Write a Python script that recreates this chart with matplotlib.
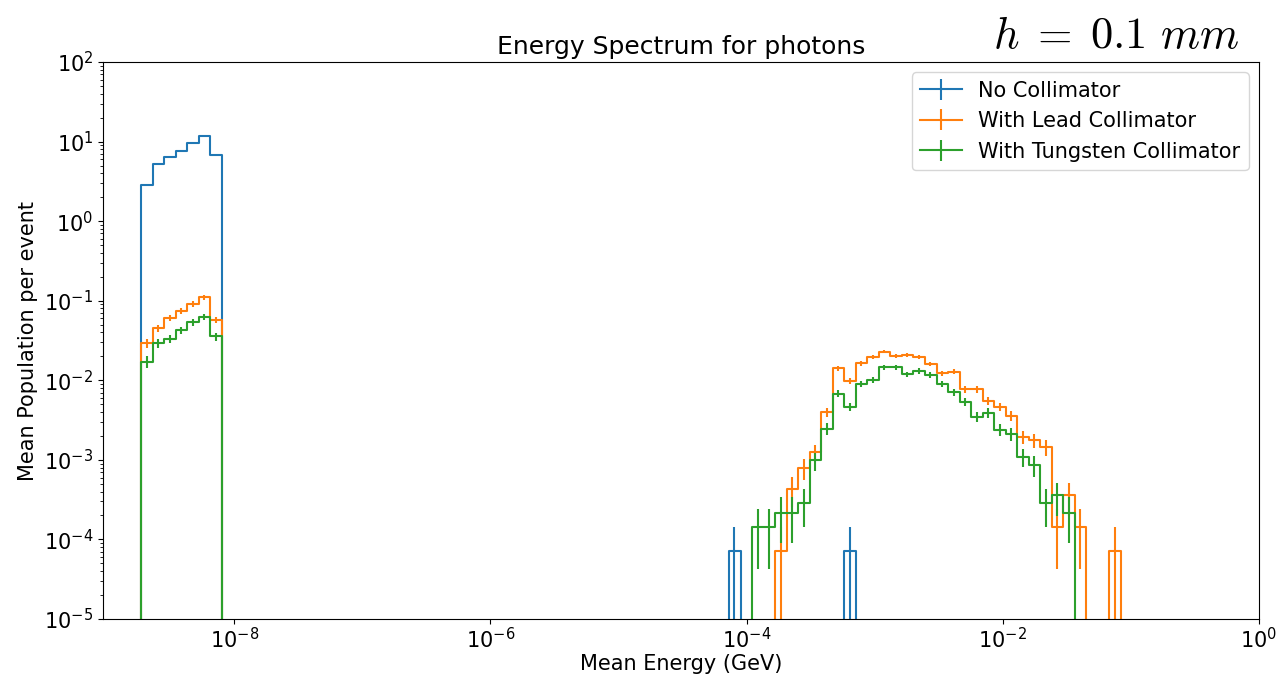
import matplotlib.pyplot as plt
import numpy as np

plt.rcParams['font.size'] = 15

# 100 log bins between 1e-9 and 1 GeV
edges = np.logspace(-9, 0, 101)
centers = np.sqrt(edges[:-1] * edges[1:])

labels = ["No Collimator", "With Lead Collimator", "With Tungsten Collimator"]

# low energy cluster, bins 3..9
low_start = 3
no_coll_low = [2.85, 5.2, 6.4, 7.7, 9.6, 11.9, 6.8]
lead_low = [0.0292, 0.0451, 0.0603, 0.0751, 0.0912, 0.1107, 0.0574]
tung_low = [0.0170, 0.0291, 0.0331, 0.0424, 0.0533, 0.0621, 0.0356]

# high energy cluster, bins 54..87
high_start = 54
no_coll_high = [7.14e-5, 0, 0, 0, 0, 0, 0, 0, 0, 0,
                7.14e-5, 0, 0, 0, 0, 0, 0, 0, 0, 0,
                0, 0, 0, 0, 0, 0, 0, 0, 0, 0,
                0, 0, 0, 0]
lead_high = [0, 0, 0, 0, 7.14e-5, 4.3e-4, 7.9e-4, 1.25e-3, 3.97e-3, 0.0142,
             9.9e-3, 0.0164, 0.0195, 0.0230, 0.0203, 0.0209, 0.0195, 0.0161, 0.0123, 0.0128,
             0.0077, 0.0077, 0.0055, 0.00468, 0.00357, 0.00196, 0.00178, 0.00144, 1.43e-4, 3.57e-4,
             1.43e-4, 0, 0, 7.14e-5]
tung_high = [0, 0, 1.43e-4, 1.43e-4, 2.14e-4, 2.14e-4, 2.86e-4, 1.0e-3, 2.45e-3, 6.8e-3,
             4.68e-3, 8.93e-3, 0.0101, 0.0145, 0.0145, 0.0119, 0.0131, 0.0117, 0.0090, 0.0071,
             0.0053, 0.0035, 0.0039, 0.00238, 0.00212, 0.00108, 8.6e-4, 2.86e-4, 3.57e-4, 2.14e-4,
             0, 0, 0, 0]

n_low = 2000
n_high = 14000


def spectrum(low, high):
    y = np.zeros(len(centers))
    err = np.zeros(len(centers))
    y[low_start:low_start + len(low)] = low
    y[high_start:high_start + len(high)] = high
    err[low_start:low_start + len(low)] = np.sqrt(np.array(low) / n_low)
    err[high_start:high_start + len(high)] = np.sqrt(np.array(high) / n_high)
    return y, err


fig, ax = plt.subplots(figsize=(12.79, 6.76), dpi=100)
fig.subplots_adjust(left=0.0805, right=0.9844, bottom=0.0843, top=0.9083)
ax.set_xscale('log')
ax.set_yscale('log')

for (low, high), lab in zip([(no_coll_low, no_coll_high),
                             (lead_low, lead_high),
                             (tung_low, tung_high)], labels):
    y, err = spectrum(low, high)
    ax.errorbar(centers, y, yerr=err, drawstyle='steps-mid', label=lab)

ax.set_xlim(10 ** -9.025, 1)
ax.set_ylim(1e-5, 1e2)
ax.tick_params(axis='x', pad=2.5)
ax.set_xlabel("Mean Energy (GeV)", labelpad=1)
ax.set_ylabel("Mean Population per event")
ax.set_title("Energy Spectrum for photons")
ax.legend(loc='upper right')
fig.text(0.969, 0.915, r'$h\;=\;0.1\ mm$', ha='right', va='bottom', fontsize=32,
         math_fontfamily='cm')

plt.savefig("out.png")
